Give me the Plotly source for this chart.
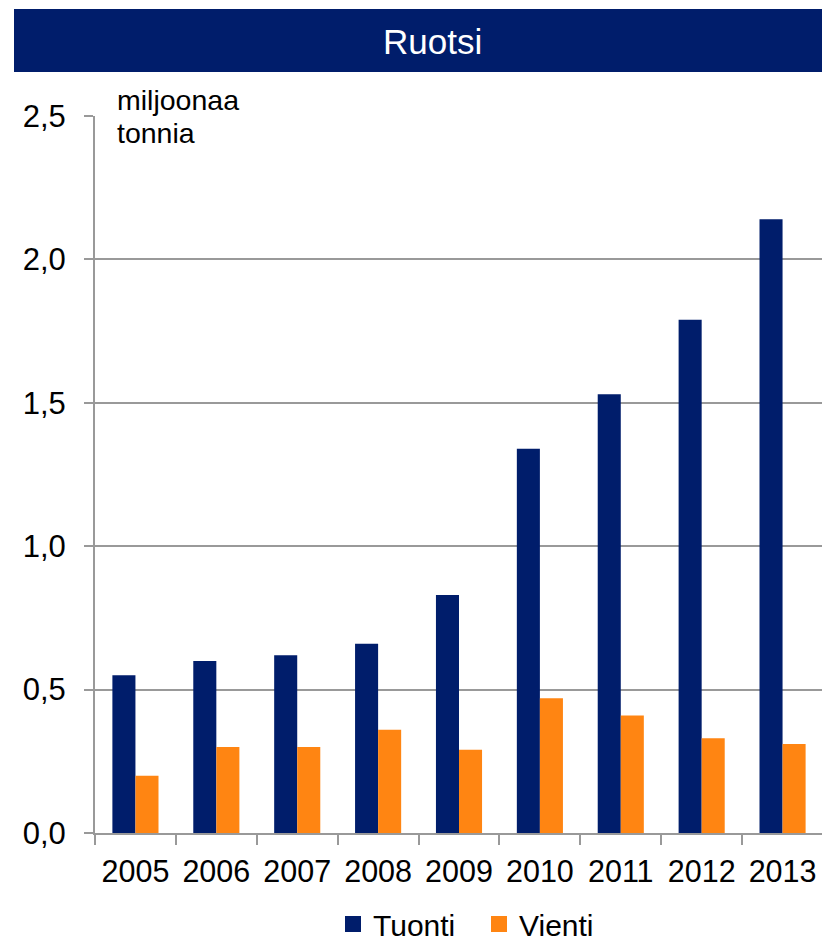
import plotly.graph_objects as go

years = ["2005", "2006", "2007", "2008", "2009", "2010", "2011", "2012", "2013"]
tuonti = [0.55, 0.60, 0.62, 0.66, 0.83, 1.34, 1.53, 1.79, 2.14]
vienti = [0.20, 0.30, 0.30, 0.36, 0.29, 0.47, 0.41, 0.33, 0.31]
y_ticks = [0.0, 0.5, 1.0, 1.5, 2.0, 2.5]

# page body has an 8px margin: figure pixel = screen pixel - OFF
OFF = 8
W, H = 830 - OFF, 942 - OFF
# plot area in screen pixels
X0, X1, Y0, Y1 = 95, 823, 116, 833
L, T = X0 - OFF, Y0 - OFF
PW, PH = X1 - X0, Y1 - Y0
R, B = W - L - PW, H - T - PH

def px(x):
    return (x - X0) / PW

def py(y):
    return (Y1 - y) / PH

NAVY = "#001D6B"
ORANGE = "#FF8512"
GRID = "#999999"
FONT = "Liberation Sans, Arial, sans-serif"

fig = go.Figure()
fig.add_trace(go.Bar(x=years, y=tuonti, name="Tuonti", marker=dict(color=NAVY, line=dict(width=0)), showlegend=False))
fig.add_trace(go.Bar(x=years, y=vienti, name="Vienti", marker=dict(color=ORANGE, line=dict(width=0)), showlegend=False))
fig.add_trace(go.Scatter(x=[None], y=[None], mode="markers", name="Tuonti",
                         marker=dict(symbol="square", size=16, color=NAVY)))
fig.add_trace(go.Scatter(x=[None], y=[None], mode="markers", name="Vienti",
                         marker=dict(symbol="square", size=16, color=ORANGE)))

fig.update_layout(
    width=W, height=H,
    margin=dict(l=L, r=R, t=T, b=B, pad=0, autoexpand=False),
    paper_bgcolor="white", plot_bgcolor="white",
    separators=", ",
    font=dict(family=FONT, color="black", size=30),
    barmode="group", bargap=0.43, bargroupgap=0,
    showlegend=True,
    legend=dict(orientation="h", x=px(333), xanchor="left",
                y=py(924), yanchor="middle", font=dict(size=30),
                entrywidth=101, entrywidthmode="pixels",
                bgcolor="rgba(0,0,0,0)", itemclick=False, tracegroupgap=0),
    xaxis=dict(type="category", showline=True, linecolor=GRID, linewidth=2,
               ticks="outside", tickson="boundaries", ticklen=10, tickwidth=2, tickcolor=GRID,
               tickfont=dict(size=30.5), showgrid=False, ticklabelstandoff=10,
               tickangle=0, automargin=False),
    yaxis=dict(range=[0, 2.5], tickvals=y_ticks, tickformat=".1f", showline=True,
               linecolor=GRID, linewidth=2, ticks="outside", ticklen=9, tickwidth=2,
               tickcolor=GRID, showgrid=True, gridcolor=GRID, gridwidth=2,
               tickfont=dict(size=31), zeroline=False, ticklabelstandoff=12,
               automargin=False),
    shapes=[dict(type="rect", xref="paper", yref="paper", x0=px(14), x1=px(840),
                 y0=py(72), y1=py(9), fillcolor=NAVY, line=dict(width=0), layer="above")],
    annotations=[
        dict(text="Ruotsi", xref="paper", yref="paper", x=px(432), y=py(41),
             xanchor="center", yanchor="middle", showarrow=False,
             font=dict(size=35, color="white", family=FONT)),
        dict(text="miljoonaa", xref="paper", yref="paper", x=px(115), y=py(100),
             xanchor="left", yanchor="middle", showarrow=False,
             font=dict(size=28.5, color="black", family=FONT)),
        dict(text="tonnia", xref="paper", yref="paper", x=px(115), y=py(133),
             xanchor="left", yanchor="middle", showarrow=False,
             font=dict(size=28.5, color="black", family=FONT)),
    ],
)

fig.write_html("out.html")
